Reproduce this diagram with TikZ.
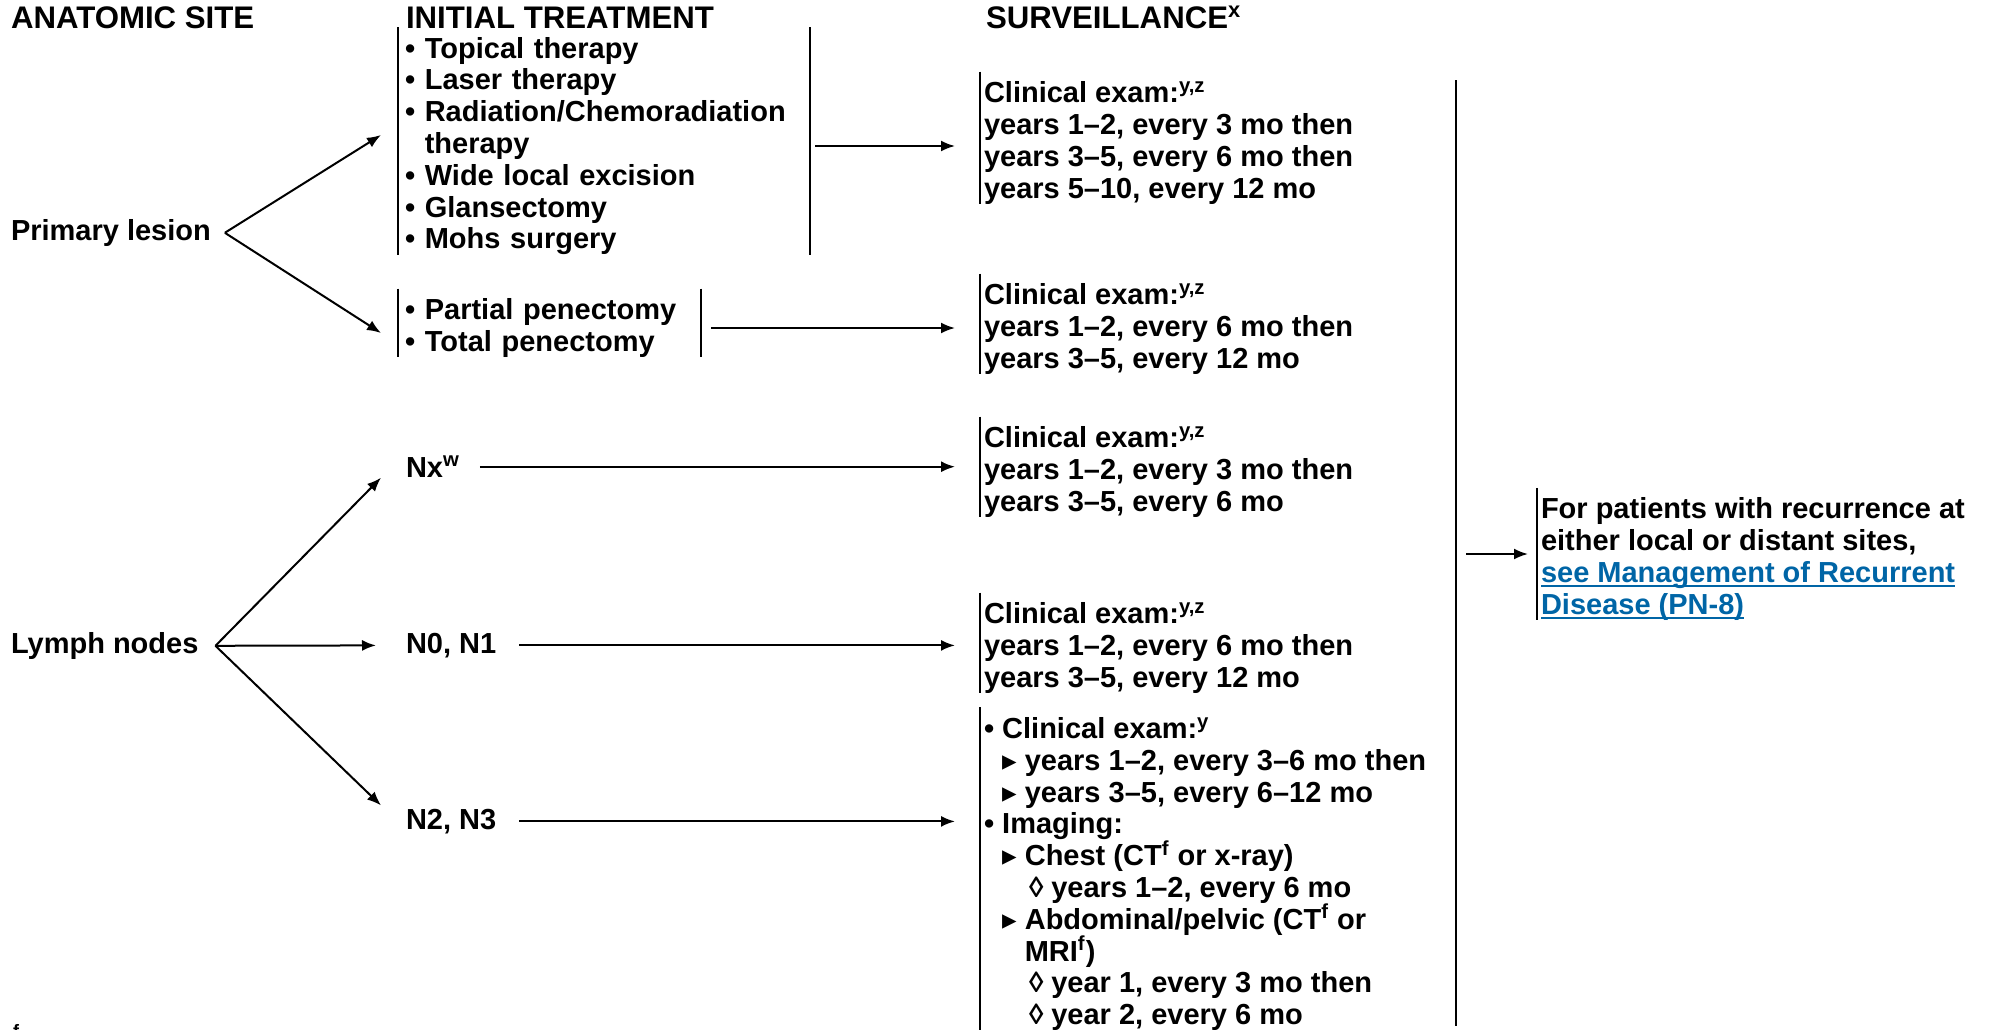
\documentclass[tikz,border=0pt]{standalone}
\usepackage{fontspec}
\setmainfont{Liberation Sans}
\newfontfamily\symfont{DejaVu Sans}
\usetikzlibrary{arrows.meta}

\definecolor{linkblue}{RGB}{0,101,166}

\newsavebox{\lnkbox}
\newcommand{\lnk}[1]{\sbox{\lnkbox}{#1}\rlap{\rule[-2.2pt]{\wd\lnkbox}{0.9pt}}\usebox{\lnkbox}}
\newcommand{\tri}{{\symfont\bfseries ▸}}
\newcommand{\ind}{\phantom{\textbullet\ }}
\newcommand{\dind}{\hspace*{22.5pt}}

\tikzset{
	txt/.style = {font = \bfseries\fontsize{14.5}{15.9}\selectfont, inner sep = 0pt},
	lbl/.style = {txt, anchor = mid west, yshift = -2.5pt},
	head/.style = {lbl, font = \bfseries\fontsize{15.6}{17}\selectfont},
	blk/.style = {txt, anchor = west, align = left, inner xsep = 1.5pt, inner ysep = 2pt, yshift = -2.5pt},
	bar/.style = {line width = 0.9pt}
}

\begin{document}
\begin{tikzpicture}[x = 0.5pt, y = -0.5pt, > = {Latex[length = 7pt, width = 5.5pt]}, line width = 1pt]

	\useasboundingbox (0, 0) rectangle (1992, 1029);

	% Headers
	
	\node [head] (hsite) at (10, 18) {ANATOMIC SITE};
	\node [head] (htreat) at (405, 18) {INITIAL TREATMENT};
	\node [head] (hsurv) at (985, 18) {SURVEILLANCE\textsuperscript{x}};
	
	% Anatomic sites and initial treatment
	
	\node [lbl] (pl) at (10, 230) {Primary lesion};
	\node [lbl] (ln) at (10, 643) {Lymph nodes};
	
	\node [blk, inner xsep = 3pt, text width = 199pt] (t1) at (398, 141) {\textbullet\ Topical therapy\\
		\textbullet\ Laser therapy\\
		\textbullet\ Radiation/Chemoradiation\\
		\ind therapy\\
		\textbullet\ Wide local excision\\
		\textbullet\ Glansectomy\\
		\textbullet\ Mohs surgery};
	\node [blk, inner xsep = 3pt, text width = 144.5pt] (t2) at (398, 323) {\textbullet\ Partial penectomy\\
		\textbullet\ Total penectomy};
	
	\node [lbl] (nx) at (405, 467) {Nx\textsuperscript{w}};
	\node [lbl] (n01) at (405, 643) {N0, N1};
	\node [lbl] (n23) at (405, 819) {N2, N3};
	
	% Surveillance
	
	\node [blk] (s1) at (980, 138) {Clinical exam:\textsuperscript{y,z}\\
		years 1–2, every 3 mo then\\
		years 3–5, every 6 mo then\\
		years 5–10, every 12 mo};
	\node [blk] (s2) at (980, 324) {Clinical exam:\textsuperscript{y,z}\\
		years 1–2, every 6 mo then\\
		years 3–5, every 12 mo};
	\node [blk] (s3) at (980, 467) {Clinical exam:\textsuperscript{y,z}\\
		years 1–2, every 3 mo then\\
		years 3–5, every 6 mo};
	\node [blk] (s4) at (980, 643) {Clinical exam:\textsuperscript{y,z}\\
		years 1–2, every 6 mo then\\
		years 3–5, every 12 mo};
	\node [blk] (s5) at (980, 869) {\textbullet\ Clinical exam:\textsuperscript{y}\\
		\ind\tri\ years 1–2, every 3–6 mo then\\
		\ind\tri\ years 3–5, every 6–12 mo\\
		\textbullet\ Imaging:\\
		\ind\tri\ Chest (CT\textsuperscript{f} or x-ray)\\
		\dind◊ years 1–2, every 6 mo\\
		\ind\tri\ Abdominal/pelvic (CT\textsuperscript{f} or\\
		\ind\phantom{\tri\ }MRI\textsuperscript{f})\\
		\dind◊ year 1, every 3 mo then\\
		\dind◊ year 2, every 6 mo};
	
	\node [blk] (fin) at (1537, 554) {For patients with recurrence at\\
		either local or distant sites,\\
		\textcolor{linkblue}{\lnk{see Management of Recurrent}}\\
		\textcolor{linkblue}{\lnk{Disease (PN-8)}}};
	
	% Footnote mark, cut off at the bottom
	
	\node [txt, anchor = north west, font = \bfseries\fontsize{9}{9}\selectfont] (fnf) at (12, 1023) {f};
	
	% Bars
	
	\foreach \b in {t1, t2, s1, s2, s3, s4, s5, fin}
		\draw [bar] ([yshift = 2.5pt] \b.north west) -- ([yshift = 2.5pt] \b.south west);
	\foreach \b in {t1, t2}
		\draw [bar] ([yshift = 2.5pt] \b.north east) -- ([yshift = 2.5pt] \b.south east);
	
	\coordinate (bt) at (1456, 80);
	\coordinate (bb) at (1456, 1026);
	\coordinate (bm) at (1456, 554);
	\draw [bar] (bt) -- (bb);
	
	% Arrows
	
	\coordinate (plr) at ([xshift = 6.5pt] pl.east);
	\coordinate (lnr) at ([xshift = 8pt] ln.east);
	
	\draw [->] (plr) -- ([xshift = -8.5pt, yshift = 5.5pt] t1.west);
	\draw [->] (plr) -- ([xshift = -8.5pt, yshift = -2.5pt] t2.west);
	
	\draw [->] (lnr) -- ([xshift = -12pt, yshift = -5.5pt] nx.west);
	\draw [->] (lnr) -- ([xshift = -14.5pt] n01.west);
	\draw [->] (lnr) -- ([xshift = -12pt, yshift = 8pt] n23.west);
	
	\draw [->, shorten <= 2.5pt, shorten >= 12.5pt] (t1.east) -- (t1.east -| s1.west);
	\draw [->, shorten <= 5pt, shorten >= 12.5pt] (t2.east) -- (t2.east -| s2.west);
	\draw [->, shorten <= 9.5pt, shorten >= 12.5pt] (nx.east) -- (nx.east -| s3.west);
	\draw [->, shorten <= 11pt, shorten >= 12.5pt] (n01.east) -- (n01.east -| s4.west);
	\draw [->, shorten <= 11pt, shorten >= 12.5pt] (n23.east) -- (n23.east -| s5.west);
	
	\draw [->, shorten <= 5pt, shorten >= 4.5pt] (bm) -- (bm -| fin.west);

\end{tikzpicture}
\end{document}
